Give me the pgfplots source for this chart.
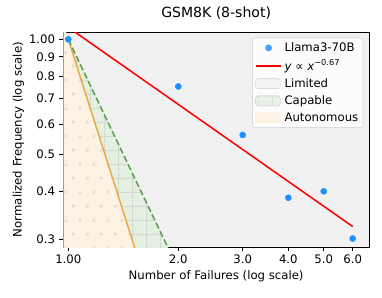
\documentclass[border=0pt]{standalone}
\usepackage{pgfplots}
\pgfplotsset{compat=1.18}
\usepackage{fontspec}
\setmainfont{DejaVu Sans}
\usetikzlibrary{patterns.meta}

\definecolor{limitedc}{HTML}{F1F1F1}
\definecolor{capc}{HTML}{E4F0E1}
\definecolor{autoc}{HTML}{FEF3E2}
\definecolor{gridc}{HTML}{D3D8D2}
\definecolor{dotc}{HTML}{D4D4D4}
\definecolor{greenl}{HTML}{5B9E50}
\definecolor{orangel}{HTML}{E9AB48}
\definecolor{ptblue}{HTML}{1E8FFF}

\tikzdeclarepattern{
  name=mpldots,
  type=colored,
  bounding box={(0pt,0pt) and (12pt,24pt)},
  tile size={(12pt,24pt)},
  code={
    \fill[dotc] (3pt,6pt) circle (1.5pt);
    \fill[dotc] (9pt,18pt) circle (1.5pt);
    \fill[white!60!dotc] (3pt,6pt) circle (0.7pt);
    \fill[white!60!dotc] (9pt,18pt) circle (0.7pt);
  }
}
\tikzdeclarepattern{
  name=mplgrid,
  type=colored,
  bounding box={(0pt,0pt) and (12pt,12pt)},
  tile size={(12pt,12pt)},
  code={
    \draw[gridc, line width=0.8pt] (6pt,0pt) -- (6pt,12pt) (0pt,6pt) -- (12pt,6pt);
  }
}

\pgfplotsset{
  myarea/.style={legend image code/.code={\draw[##1] (0pt,-4.3pt) rectangle (21pt,4.3pt);}},
  mymark/.style={legend image code/.code={\draw[##1] plot coordinates {(11pt,0pt)};}},
}

\begin{document}
\begin{tikzpicture}
\useasboundingbox (-54.1pt,-42.75pt) rectangle (272.5pt,211.2pt);
\begin{axis}[
  at={(0pt,0pt)}, anchor=south west,
  scale only axis, width=261.4pt, height=183.8pt,
  xmode=log, ymode=log,
  xmin=0.969, xmax=6.65, ymin=0.286, ymax=1.045,
  axis background/.style={fill=limitedc},
  xtick={1,2,3,4,5,6},
  xticklabels={1.00,2.0,3.0,4.0,5.0,6.0},
  ytick={0.3,0.4,0.5,0.6,0.7,0.8,0.9,1.0},
  yticklabels={0.3,0.4,0.5,0.6,0.7,0.8,0.9,1.00},
  minor xtick={}, minor ytick={},
  tick align=outside, tick pos=left,
  major tick length=3.5pt,
  every tick/.style={black, line width=0.8pt},
  axis line style={black, line width=0.8pt},
  ticklabel style={font=\fontsize{10}{12}\selectfont},
  label style={font=\fontsize{10}{12}\selectfont},
  xlabel={Number of Failures (log scale)},
  ylabel={Normalized Frequency (log scale)},
  xlabel style={at={(axis description cs:0.5,-0.135)}, anchor=center},
  ylabel style={at={(axis description cs:-0.147,0.5)}, anchor=center, rotate=0},
  title={GSM8K (8-shot)},
  title style={at={(axis description cs:0.5,1.054)}, anchor=center, font=\fontsize{12}{14}\selectfont},
  legend cell align=left,
  legend style={at={(axis description cs:0.981,0.974)}, anchor=north east,
    draw=black!20, rounded corners=2pt, fill=white, fill opacity=0.8, text opacity=1,
    font=\fontsize{10}{12}\selectfont, row sep=1.6pt, inner xsep=2pt, inner ysep=2pt},
]
% legend entries
\addlegendimage{mymark, only marks, mark=*, mark size=2.6pt, color=ptblue}
\addlegendentry{Llama3-70B}
\addlegendimage{legend image code/.code={\draw[red, line width=1.3pt] (0pt,0pt) -- (22pt,0pt);}}
\addlegendentry{\textit{y} ∝ \textit{x}\textsuperscript{−0.67}}
\addlegendimage{myarea, fill=limitedc, draw=black!18}
\addlegendentry{Limited}
\addlegendimage{myarea, fill=capc, draw=gridc, postaction={pattern=mplgrid}}
\addlegendentry{Capable}
\addlegendimage{myarea, fill=autoc, draw=orangel!25}
\addlegendentry{Autonomous}

% Capable region: between y = x^-3 and y = x^-2
\addplot[forget plot, draw=none, fill=capc, postaction={pattern=mplgrid}]
  coordinates {(0.9,1.2346) (2.1,0.22676) (1.6,0.24414) (0.9,1.3717)} -- cycle;
% Autonomous region: below y = x^-3
\addplot[forget plot, draw=none, fill=autoc, postaction={pattern=mpldots}]
  coordinates {(0.9,1.3717) (1.6,0.24414) (0.9,0.24414)} -- cycle;
% boundary lines
\addplot[forget plot, orangel, line width=1.3pt] coordinates {(1,1) (1.7,0.20354)};
\addplot[forget plot, greenl, line width=1.3pt, dash pattern=on 5.5pt off 2.4pt] coordinates {(1,1) (2.2,0.20661)};
% power-law fit
\addplot[forget plot, red, line width=1.3pt] coordinates {(1,1.075) (6,0.3236)};
% data
\addplot[forget plot, only marks, mark=*, mark size=2.6pt, color=ptblue]
  coordinates {(1,1.0) (2,0.753) (3,0.562) (4,0.385) (5,0.400) (6,0.301)};
\end{axis}
\end{tikzpicture}
\end{document}
